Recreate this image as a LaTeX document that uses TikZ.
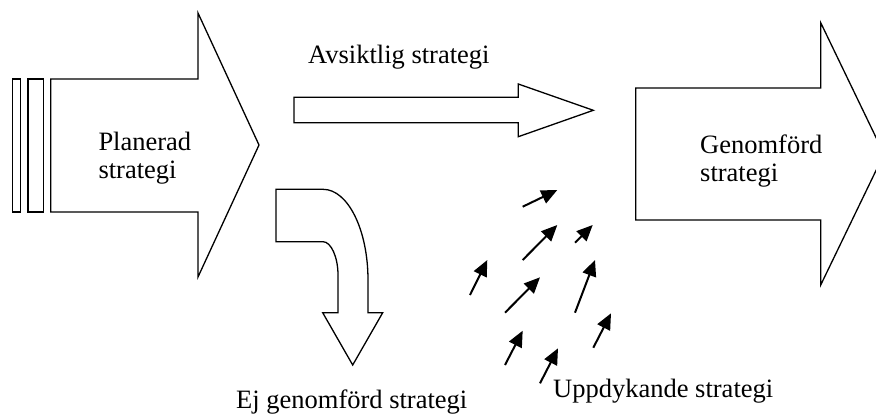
\documentclass[tikz,border=0pt]{standalone}
\usepackage{fontspec}
\setmainfont{Liberation Serif}
\usetikzlibrary{arrows.meta}
\begin{document}
\begin{tikzpicture}[x=1pt,y=-1pt,
  shapeline/.style={draw=black, line width=1.3pt, fill=white, line join=miter},
  emerge/.style={line width=2pt, -{Triangle[length=16pt,width=14pt]}},
  caption/.style={inner sep=0pt, anchor=base west, font=\fontsize{26.5}{30}\selectfont}]
\useasboundingbox (0,0) rectangle (876,416);
\fill[white] (0,0) rectangle (876,416);

% planned strategy: two bars and a broad arrow
\draw[shapeline] (12.7,79) rectangle (20.7,212);
\draw[shapeline] (28,79) rectangle (43.3,212);
\draw[shapeline] (50.7,79) -- (198,79) -- (198,13) -- (259,145)
  -- (198,277) -- (198,212) -- (50.7,212) -- cycle;
\node[caption] (plan1) at (98.3,150.7) {Planerad};
\node[caption] (plan2) at (98.3,178.3) {strategi};

% intended strategy: slim arrow
\draw[shapeline] (294,97.3) -- (518.3,97.3) -- (518.3,84) -- (593.3,110.3)
  -- (518.3,136.7) -- (518.3,122.7) -- (294,122.7) -- cycle;
\node[caption] (intended) at (308,63.5) {Avsiktlig strategi};

% realised strategy: broad arrow running off the right edge
\begin{scope}
  \clip (0,0) rectangle (876,416);
  \draw[shapeline] (635.7,88) -- (820.7,88) -- (820.7,22.7) -- (884,154)
    -- (820.7,285) -- (820.7,220) -- (635.7,220) -- cycle;
\end{scope}
\node[caption] (real1) at (700,153.3) {Genomförd};
\node[caption] (real2) at (700,181.7) {strategi};

% unrealised strategy: bent arrow pointing down
\draw[shapeline] (276,189.3) -- (323,189.3)
  .. controls (348,189.3) and (368,230) .. (368,280)
  -- (368,312.7) -- (382.7,312.7) -- (352.7,365) -- (322.7,312.7)
  -- (338,312.7) -- (338,275)
  .. controls (338,257) and (331,241.7) .. (323,241.7)
  -- (276,241.7) -- cycle;
\node[caption] (unreal) at (236,408.5) {Ej genomförd strategi};

% emergent strategy: scattered small arrows
\foreach \i/\sx/\sy/\ex/\ey in {
  a/522.7/206.7/557.3/190,
  b/522.7/260/557.3/225,
  c/575/242.7/592.7/225,
  d/470/295/487.3/260,
  e/505/312.7/540/277.3,
  f/575/312.7/595/260,
  g/593.3/347.7/611/313.3,
  h/505/365/522.7/330.7,
  k/540/383.3/558/348.3} {
  \coordinate (s\i) at (\sx,\sy);
  \coordinate (t\i) at (\ex,\ey);
  \draw[emerge] (s\i) -- (t\i);
}
\node[caption] (emergent) at (553,397) {Uppdykande strategi};
\end{tikzpicture}
\end{document}
